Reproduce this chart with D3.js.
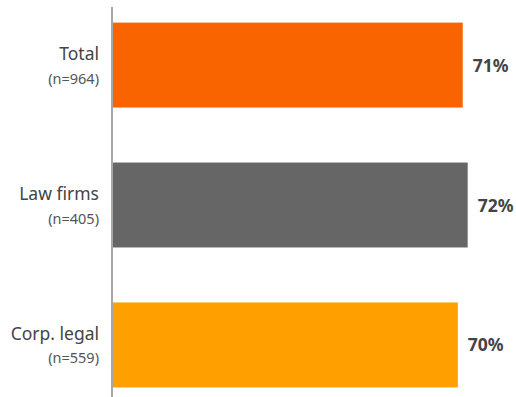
<!DOCTYPE html>
<html>
<head>
<meta charset="utf-8">
<script src="https://cdn.jsdelivr.net/npm/d3@7"></script>
<style>
  html, body { margin: 0; padding: 0; background: #fff; }
  svg { display: block; }
  text { font-family: "Noto Sans", sans-serif; }
</style>
</head>
<body>
<svg id="chart" width="516" height="397"></svg>
<script>
// Survey groups and their shares
const categories = ["Total", "Law firms", "Corp. legal"];
const sampleSizes = ["(n=964)", "(n=405)", "(n=559)"];
const values = [71, 72, 70];
const valueLabels = ["71%", "72%", "70%"];
const colors = ["#F96400", "#666666", "#FFA000"];

const W = 516, H = 397;
const svg = d3.select("#chart");

const x = d3.scaleLinear().domain([0, 100]).range([112, 606]);
const y = d3.scaleBand()
  .domain(categories)
  .range([10, 400])
  .paddingInner(0.393)
  .paddingOuter(0.09);

// Bars
svg.selectAll("rect.bar")
  .data(categories)
  .join("rect")
  .attr("class", "bar")
  .attr("x", x(0) + 1)
  .attr("y", d => y(d))
  .attr("width", (d, i) => x(values[i]) - x(0) - 1)
  .attr("height", y.bandwidth())
  .attr("fill", (d, i) => colors[i]);

// Vertical baseline
svg.append("line")
  .attr("x1", x(0)).attr("x2", x(0))
  .attr("y1", 7).attr("y2", H)
  .attr("stroke", "#8a8a8a")
  .attr("stroke-width", 1.5);

// Category labels
const lab = svg.selectAll("g.cat")
  .data(categories)
  .join("g")
  .attr("class", "cat")
  .attr("transform", d => `translate(99, ${y(d) + y.bandwidth() / 2})`);

lab.append("text")
  .attr("text-anchor", "end")
  .attr("y", -5)
  .attr("font-size", 17.5)
  .attr("fill", "#444")
  .text(d => d);

lab.append("text")
  .attr("text-anchor", "end")
  .attr("y", 18.5)
  .attr("font-size", 14.5)
  .attr("fill", "#555")
  .text((d, i) => sampleSizes[i]);

// Value labels
svg.selectAll("text.val")
  .data(categories)
  .join("text")
  .attr("class", "val")
  .attr("x", (d, i) => x(values[i]) + 10)
  .attr("y", d => y(d) + y.bandwidth() / 2 + 6.5)
  .attr("font-size", 17.5)
  .attr("font-weight", "bold")
  .attr("fill", "#444")
  .text((d, i) => valueLabels[i]);
</script>
</body>
</html>
